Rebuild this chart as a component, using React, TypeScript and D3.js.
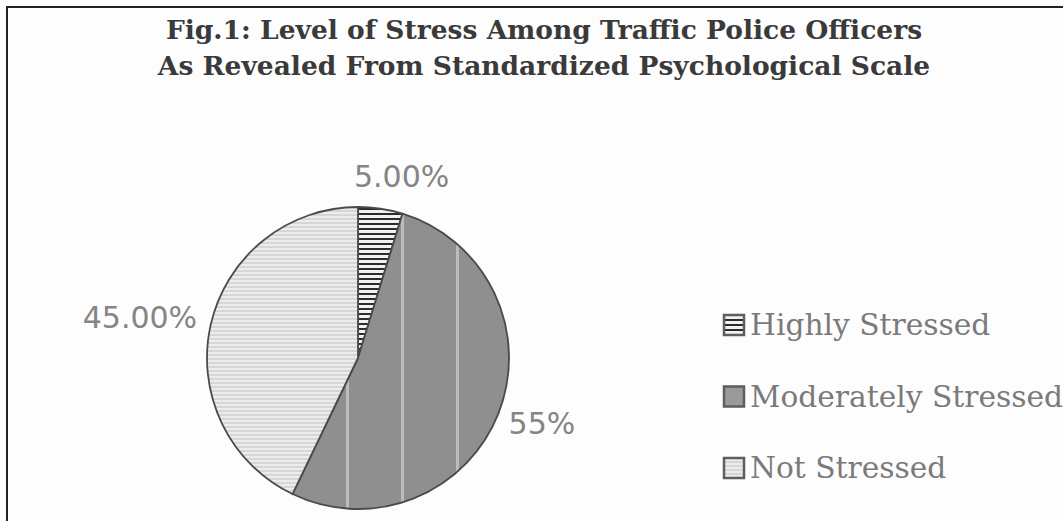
import React, { useEffect, useRef } from "react";
import * as d3 from "d3";

// chart data
const categories = ["Highly Stressed", "Moderately Stressed", "Not Stressed"];
const values = [5, 55, 45];
const valueLabels = ["5.00%", "55%", "45.00%"];
const titleLines = [
  "Fig.1: Level of Stress Among Traffic Police Officers",
  "As Revealed From Standardized Psychological Scale",
];

// small nudges for the data labels (Excel "best fit" placement)
const labelNudges = [
  { dx: 19, dy: -8 },
  { dx: -3, dy: 5 },
  { dx: 0, dy: -4 },
];

const patternIds = ["pat-high", "pat-mod", "pat-not"];

const App = () => {
  const svgRef = useRef<SVGSVGElement>(null);

  useEffect(() => {
    const width = 1063,
      height = 521;
    const cx = 358,
      cy = 358,
      radius = 151;

    const svg = d3.select(svgRef.current);
    svg.selectAll("*").remove();
    svg.attr("width", width).attr("height", height);

    svg.append("rect").attr("width", width).attr("height", height).attr("fill", "#fdfdfd");

    // fill patterns (pattern space = pie group space, centre at 0,0)
    const defs = svg.append("defs");
    const high = defs
      .append("pattern")
      .attr("id", "pat-high")
      .attr("patternUnits", "userSpaceOnUse")
      .attr("width", 8)
      .attr("height", 5);
    high.append("rect").attr("width", 8).attr("height", 5).attr("fill", "#f2f2f2");
    high.append("rect").attr("width", 8).attr("height", 2).attr("fill", "#2b2b2b");

    const mod = defs
      .append("pattern")
      .attr("id", "pat-mod")
      .attr("patternUnits", "userSpaceOnUse")
      .attr("x", -12)
      .attr("width", 55)
      .attr("height", 10);
    mod.append("rect").attr("width", 55).attr("height", 10).attr("fill", "#8f8f8f");
    mod.append("rect").attr("width", 3).attr("height", 10).attr("fill", "#bcbcbc");

    const not = defs
      .append("pattern")
      .attr("id", "pat-not")
      .attr("patternUnits", "userSpaceOnUse")
      .attr("width", 8)
      .attr("height", 4);
    not.append("rect").attr("width", 8).attr("height", 4).attr("fill", "#ececec");
    not.append("rect").attr("width", 8).attr("height", 2).attr("fill", "#d6d6d6");

    // frame
    svg
      .append("rect")
      .attr("x", 7)
      .attr("y", 7)
      .attr("width", width + 50)
      .attr("height", height + 50)
      .attr("fill", "none")
      .attr("stroke", "#222")
      .attr("stroke-width", 2);

    // title
    svg
      .append("g")
      .selectAll("text")
      .data(titleLines)
      .enter()
      .append("text")
      .attr("x", 544)
      .attr("y", (d, i) => 39 + i * 36)
      .attr("text-anchor", "middle")
      .attr("font-family", "DejaVu Serif")
      .attr("font-weight", "bold")
      .attr("font-size", 26.5)
      .attr("fill", "#3a3a3a")
      .text((d) => d);

    // pie
    const pie = d3
      .pie<number>()
      .sort(null)
      .value((d) => d);
    const arcs = pie(values);
    const arc = d3.arc<d3.PieArcDatum<number>>().innerRadius(0).outerRadius(radius);

    const g = svg.append("g").attr("transform", `translate(${cx}, ${cy})`);
    g.selectAll("path")
      .data(arcs)
      .enter()
      .append("path")
      .attr("d", arc)
      .attr("fill", (d, i) => `url(#${patternIds[i]})`)
      .attr("stroke", "#4a4a4a")
      .attr("stroke-width", 1.8)
      .attr("stroke-linejoin", "round");

    // data labels
    const labelR = radius + 14;
    svg
      .append("g")
      .selectAll("text")
      .data(arcs)
      .enter()
      .append("text")
      .each(function (d, i) {
        const mid = (d.startAngle + d.endAngle) / 2;
        const s = Math.sin(mid);
        const x = cx + s * labelR + labelNudges[i].dx;
        const y = cy - Math.cos(mid) * labelR + labelNudges[i].dy;
        const anchor = s > 0.3 ? "start" : s < -0.3 ? "end" : "middle";
        d3.select(this)
          .attr("x", x)
          .attr("y", y)
          .attr("text-anchor", anchor)
          .attr("dominant-baseline", anchor === "middle" ? "auto" : "central");
      })
      .attr("font-family", "DejaVu Sans")
      .attr("font-size", 30)
      .attr("fill", "#858585")
      .text((d, i) => valueLabels[i]);

    // legend
    const legendY = d3.scalePoint<string>().domain(categories).range([314, 457]);
    const legend = svg
      .append("g")
      .selectAll("g")
      .data(categories)
      .enter()
      .append("g")
      .attr("transform", (d) => `translate(723, ${legendY(d)})`);

    legend
      .append("rect")
      .attr("x", 1)
      .attr("y", 1)
      .attr("width", 20)
      .attr("height", 20)
      .attr("fill", (d, i) => (i === 1 ? "#9a9a9a" : `url(#${patternIds[i]})`))
      .attr("stroke", "#5e5e5e")
      .attr("stroke-width", 2.5);

    legend
      .append("text")
      .attr("x", 27)
      .attr("y", 21)
      .attr("font-family", "DejaVu Serif")
      .attr("font-size", 29.7)
      .attr("fill", "#7a7a7a")
      .text((d) => d);
  }, []);

  return (
    <svg
      ref={svgRef}
      style={{ position: "absolute", left: 0, top: 0, display: "block" }}
    ></svg>
  );
};

export default App;
